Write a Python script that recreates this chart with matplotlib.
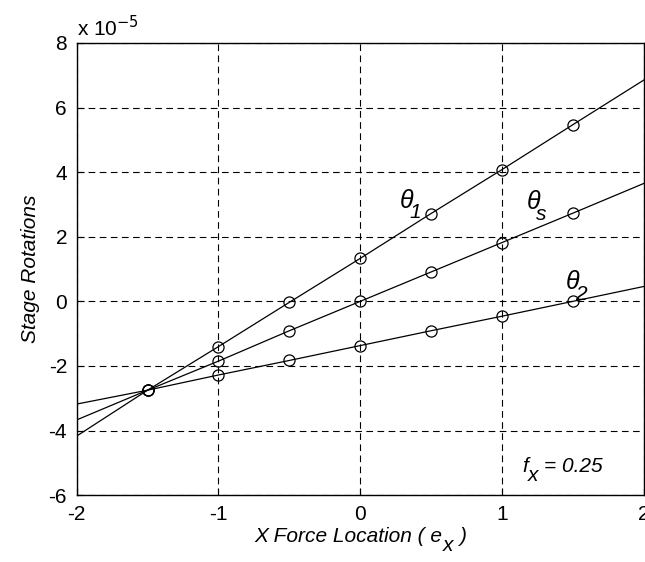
import matplotlib
matplotlib.use("Agg")
import matplotlib.pyplot as plt

# =========================
# DATA (rotations in units of 1e-5)
# =========================

ex = [-2, -1.5, -1, -0.5, 0, 0.5, 1, 1.5, 2]

theta_1 = [-4.17, -2.75, -1.40, -0.03, 1.33, 2.72, 4.08, 5.47, 6.85]
theta_s = [-3.67, -2.75, -1.85, -0.91, 0.00, 0.91, 1.82, 2.73, 3.65]
theta_2 = [-3.18, -2.75, -2.28, -1.83, -1.37, -0.91, -0.46, 0.00, 0.46]

x_ticks = [-2, -1, 0, 1, 2]
y_ticks = [-6, -4, -2, 0, 2, 4, 6, 8]

# =========================
# STYLE
# =========================

plt.rcParams["font.family"] = ["Liberation Sans", "DejaVu Sans"]
plt.rcParams["axes.unicode_minus"] = False

fig = plt.figure(figsize=(6.45, 5.62), dpi=100)
ax = fig.add_axes([0.119, 0.119, 0.879, 0.8045])

# =========================
# LINES
# =========================

for series in (theta_1, theta_s, theta_2):
    ax.plot(ex, series, color="black", lw=0.9,
            marker="o", markersize=8, markerfacecolor="none",
            markeredgecolor="black", markeredgewidth=0.9,
            markevery=slice(1, -1))

ax.set_xlim(-2, 2)
ax.set_ylim(-6, 8)
ax.set_xticks(x_ticks)
ax.set_yticks(y_ticks)
ax.tick_params(direction="in", length=5, labelsize=15, pad=7)

ax.grid(True, color="black", linestyle=(0, (6, 4)), linewidth=0.8)
for s in ax.spines.values():
    s.set_linewidth(1.0)

# =========================
# TEXT
# =========================

def after(artist, txt, dx=1, dy=0, size=15):
    # place txt right after another text artist, shifted by (dx, dy) points
    return ax.annotate(txt, xy=(1, 0), xycoords=artist, xytext=(dx, dy),
                       textcoords="offset points", fontsize=size,
                       style="italic", va="bottom")

def theta_label(x, y, sub):
    t = ax.text(x, y, "\u03b8", fontsize=18, style="italic", va="bottom")
    after(t, sub, dx=-3, dy=-7)

theta_label(0.279, 2.75, "1")
theta_label(1.175, 2.69, "s")
theta_label(1.45, 0.22, "2")

f = ax.text(1.14, -5.4, "f", fontsize=15, style="italic", va="bottom")
sub_x = after(f, "x", dx=0, dy=-7)
after(sub_x, "= 0.25", dx=4, dy=7)

ax.set_xlabel("X Force Location ( e", fontsize=15, style="italic",
              labelpad=2)
fig.canvas.draw()
xl = ax.xaxis.label
xl.set_position((0.48, 0))
lab_x = ax.annotate("x", xy=(1, 0), xycoords=xl, xytext=(0, -7),
                    textcoords="offset points", fontsize=15,
                    style="italic", va="bottom")
ax.annotate(")", xy=(1, 0), xycoords=lab_x, xytext=(4, 7),
            textcoords="offset points", fontsize=15,
            style="italic", va="bottom")

ax.set_ylabel("Stage Rotations", fontsize=15, style="italic", labelpad=6)

fig.text(0.119, 0.935, r"x 10$^{-5}$", fontsize=15)

plt.savefig("out.png", dpi=100)
